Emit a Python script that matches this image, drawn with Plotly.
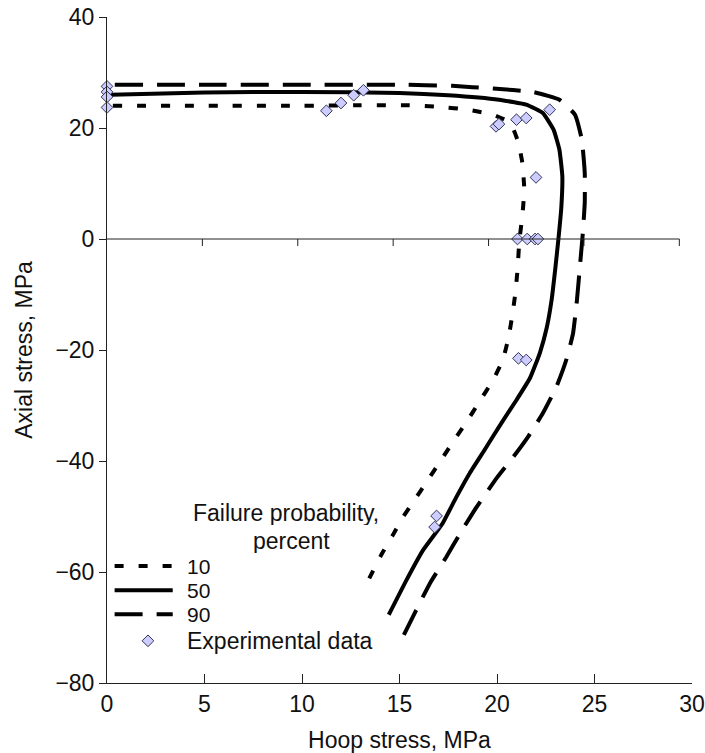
import plotly.graph_objects as go

# Failure envelopes (hoop stress vs axial stress, MPa) for three failure probabilities
p10_hoop = [0.3, 5, 10, 13, 15.5, 17.1, 18.5, 19.8, 20.5, 20.85, 21.1, 21.3, 21.4, 21.3, 21.15,
            21.05, 20.95, 20.8, 20.6, 20.3, 19.8, 19.1, 18.45, 17.75, 17.1, 16.4, 15.7, 15.2,
            14.65, 14.05, 13.4]
p10_axial = [24.0, 24.0, 24.0, 24.1, 24.1, 23.8, 23.3, 22.4, 21.3, 19.7, 17.3, 13.7, 8.9, 4.2, -0.2,
             -5.6, -9.5, -13.4, -17.6, -21.8, -25.4, -29.3, -32.9, -36.5, -40.0, -43.7, -47.4, -50.0,
             -53.4, -57.0, -61.5]

p50_hoop = [0.2, 5, 10, 15, 17.5, 20.1, 21.5, 22.35, 22.9, 23.2, 23.35, 23.3, 23.15, 23.0, 22.8,
            22.55, 22.2, 21.7, 21.0, 20.2, 19.4, 18.6, 17.9, 17.2, 16.2, 15.35, 14.45]
p50_axial = [26.0, 26.4, 26.5, 26.3, 25.9, 25.1, 24.2, 22.7, 19.7, 16.1, 11.3, 5.8, 0.0, -5.0, -11.0,
             -16.0, -20.5, -25.0, -29.0, -33.3, -37.8, -42.2, -46.6, -51.3, -56.1, -61.5, -67.7]

p90_hoop = [0.4, 5, 10, 15, 17.7, 19.8, 21.85, 23.2, 24.0, 24.35, 24.5, 24.5, 24.4, 24.25, 24.1,
            23.9, 23.55, 23.05, 22.35, 21.6, 20.85, 20.0, 18.95, 18.1, 17.4, 16.55, 15.85, 15.2]
p90_axial = [27.8, 27.8, 27.8, 27.8, 27.6, 27.1, 26.5, 25.1, 22.4, 17.9, 11.9, 6.5, 1.0, -5.0, -11.0,
             -17.0, -21.8, -26.6, -31.4, -35.6, -39.2, -43.0, -48.3, -53.1, -57.3, -62.1, -66.9, -71.5]

# Experimental failure points
exp_hoop = [0, 0, 0, 0, 11.25, 12.0, 12.65, 13.15, 19.95, 20.1, 21.0, 21.5, 22.7, 22.0,
            21.05, 21.55, 21.95, 22.1, 21.1, 21.5, 16.9, 16.8]
exp_axial = [27.5, 26.5, 25.6, 23.7, 23.1, 24.5, 25.9, 26.8, 20.3, 20.7, 21.5, 21.8, 23.3, 11.1,
             0, 0, 0, 0, -21.5, -21.8, -49.9, -51.9]

legend_labels = ["10", "50", "90"]
legend_title_lines = ["Failure probability,", "percent"]
x_ticks = [0, 5, 10, 15, 20, 25, 30]
y_ticks = [-80, -60, -40, -20, 0, 20, 40]

FONT = "Liberation Sans, Arial, sans-serif"
FS = 23
INK = "#111111"
dashes = ["9px,15px", "solid", "28px,14px"]
series = [(p10_hoop, p10_axial), (p50_hoop, p50_axial), (p90_hoop, p90_axial)]

fig = go.Figure()
for (xs, ys), dash, lab in zip(series, dashes, legend_labels):
    fig.add_trace(go.Scatter(x=xs, y=ys, mode="lines", name=lab, showlegend=False,
                             line=dict(color="black", width=4, dash=dash, shape="spline",
                                       smoothing=0.4)))

marker_style = dict(symbol="diamond", size=9, color="#ccccff", line=dict(color="#333355", width=1))
fig.add_trace(go.Scatter(x=exp_hoop, y=exp_axial, mode="markers", name="Experimental data",
                         showlegend=False, marker=marker_style, cliponaxis=False))

# Horizontal reference line at zero axial stress with downward ticks
zero_end = 29.35
shapes = [dict(type="line", xref="x", yref="y", x0=0, x1=zero_end, y0=0, y1=0,
               line=dict(color="#222222", width=1))]
for k in range(1, 7):
    xv = zero_end * k / 6
    shapes.append(dict(type="line", xref="x", yref="y", ysizemode="pixel", yanchor=0,
                       x0=xv, x1=xv, y0=0, y1=-7, line=dict(color="#222222", width=1)))

# Hand-built key in the lower-left corner
key_x0, key_x1, key_text_x = 0.39, 3.37, 4.0
key_rows = [-58.9, -63.3, -67.6]
for yv, dash in zip(key_rows, dashes):
    shapes.append(dict(type="line", xref="x", yref="y", x0=key_x0, x1=key_x1, y0=yv, y1=yv,
                       line=dict(color="black", width=4, dash=dash)))
fig.add_trace(go.Scatter(x=[2.1], y=[-72.4], mode="markers", showlegend=False,
                         marker=marker_style, hoverinfo="skip"))

annotations = []
for (xv, yv), line_text in zip([(9.2, -49.3), (9.45, -54.4)], legend_title_lines):
    annotations.append(dict(x=xv, y=yv, xref="x", yref="y", text=line_text, showarrow=False,
                            font=dict(family=FONT, size=FS, color=INK), xanchor="center",
                            yanchor="middle", height=24, valign="middle"))
for yv, lab in zip(key_rows, legend_labels):
    annotations.append(dict(x=key_text_x, y=yv, xref="x", yref="y", text=lab, showarrow=False,
                            font=dict(family=FONT, size=21, color=INK), xanchor="left",
                            yanchor="middle", height=22, valign="middle"))
annotations.append(dict(x=key_text_x, y=-72.5, xref="x", yref="y", text="Experimental data",
                        showarrow=False, font=dict(family=FONT, size=FS, color=INK),
                        xanchor="left", yanchor="middle"))

fig.update_layout(
    width=705, height=753,
    margin=dict(l=107, r=13, t=17, b=70, autoexpand=False),
    paper_bgcolor="white", plot_bgcolor="white",
    font=dict(family=FONT, size=FS, color=INK),
    shapes=shapes, annotations=annotations,
    showlegend=False,
    xaxis=dict(range=[0, 30], tickvals=x_ticks, ticks="inside", ticklen=9, tickcolor="#222222",
               showline=True, linecolor="#222222", linewidth=1, showgrid=False, zeroline=False,
               automargin=False,
               title=dict(text="Hoop stress, MPa", font=dict(size=FS), standoff=16),
               tickfont=dict(size=FS)),
    yaxis=dict(range=[-80, 40], tickvals=y_ticks, ticks="outside", ticklen=7, tickcolor="#222222",
               showline=True, linecolor="#222222", linewidth=1, showgrid=False, zeroline=False,
               automargin=False,
               title=dict(text="Axial stress, MPa", font=dict(size=FS), standoff=16),
               tickfont=dict(size=FS)),
)

fig.write_html("out.html")
